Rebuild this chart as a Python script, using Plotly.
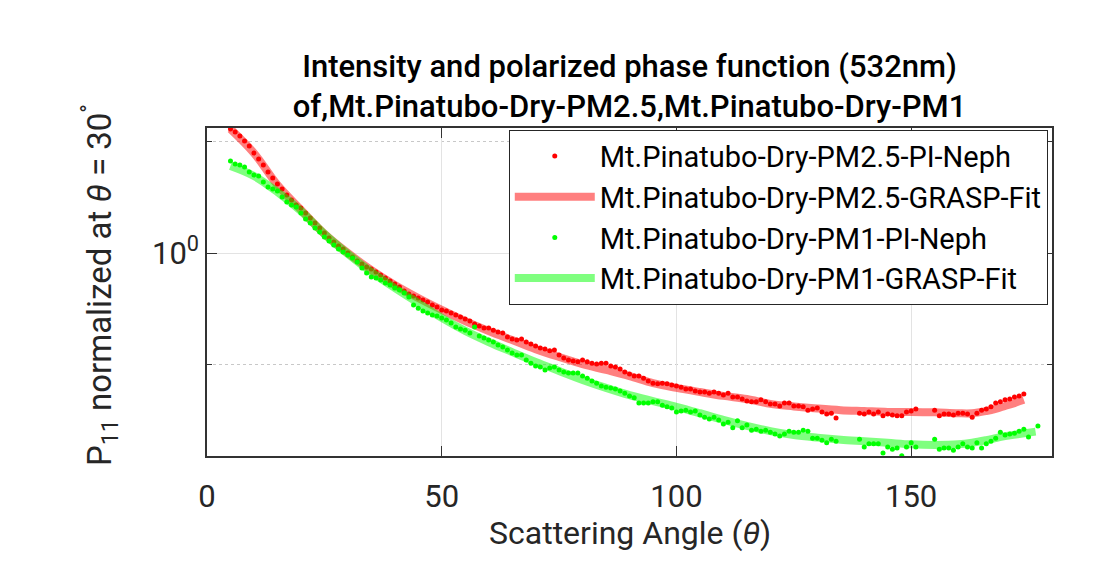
import plotly.graph_objects as go

# ---------------- data ----------------
neph_angles_pm25 = list(range(5, 135)) + list(range(139, 152)) + list(range(155, 175))
neph_pm25 = [
    2.168, 2.128, 2.075, 2.012, 1.950, 1.866, 1.798, 1.732, 1.658, 1.597,
    1.538, 1.491, 1.436, 1.392, 1.349, 1.324, 1.284, 1.244, 1.206, 1.169,
    1.133, 1.098, 1.071, 1.045, 1.025, 1.000, 0.975, 0.951, 0.934, 0.916,
    0.905, 0.888, 0.872, 0.856, 0.840, 0.824, 0.809, 0.789, 0.774, 0.765,
    0.755, 0.746, 0.737, 0.723, 0.714, 0.701, 0.696, 0.688, 0.679, 0.671,
    0.662, 0.654, 0.642, 0.634, 0.626, 0.626, 0.618, 0.611, 0.607, 0.592,
    0.585, 0.581, 0.585, 0.574, 0.567, 0.560, 0.553, 0.549, 0.543, 0.546,
    0.529, 0.519, 0.513, 0.510, 0.507, 0.513, 0.507, 0.503, 0.500, 0.503,
    0.503, 0.494, 0.491, 0.485, 0.476, 0.470, 0.464, 0.464, 0.458, 0.450,
    0.444, 0.442, 0.444, 0.442, 0.439, 0.436, 0.433, 0.428, 0.428, 0.423,
    0.420, 0.420, 0.417, 0.420, 0.417, 0.412, 0.417, 0.407, 0.407, 0.402,
    0.397, 0.395, 0.395, 0.400, 0.395, 0.390, 0.390, 0.385, 0.392, 0.392,
    0.385, 0.385, 0.383, 0.375, 0.378, 0.380, 0.371, 0.366, 0.368, 0.357,
    0.368, 0.366, 0.371, 0.366, 0.371, 0.362, 0.366, 0.364, 0.362, 0.362, 0.371, 0.373, 0.378,
    0.375, 0.362, 0.366, 0.366, 0.364, 0.368, 0.368, 0.366, 0.359, 0.368,
    0.375, 0.378, 0.383, 0.392, 0.395, 0.400, 0.402, 0.407, 0.410, 0.415,
]

neph_angles_pm1 = list(range(5, 135)) + list(range(139, 152)) + list(range(155, 176)) + [177]
neph_pm1 = [
    1.776, 1.743, 1.732, 1.710, 1.658, 1.627, 1.617, 1.557, 1.510, 1.491,
    1.472, 1.418, 1.375, 1.349, 1.332, 1.284, 1.236, 1.206, 1.169, 1.140,
    1.105, 1.078, 1.051, 1.025, 1.006, 0.988, 0.969, 0.945, 0.911, 0.883,
    0.861, 0.856, 0.845, 0.829, 0.819, 0.804, 0.794, 0.779, 0.760, 0.723,
    0.709, 0.696, 0.688, 0.679, 0.675, 0.667, 0.658, 0.646, 0.630, 0.622,
    0.618, 0.607, 0.630, 0.596, 0.588, 0.581, 0.574, 0.563, 0.556, 0.546,
    0.536, 0.529, 0.529, 0.513, 0.503, 0.494, 0.491, 0.482, 0.488, 0.491,
    0.482, 0.476, 0.473, 0.473, 0.473, 0.464, 0.458, 0.450, 0.444, 0.436,
    0.433, 0.431, 0.428, 0.423, 0.417, 0.410, 0.405, 0.392, 0.392, 0.392,
    0.395, 0.395, 0.387, 0.383, 0.380, 0.371, 0.373, 0.375, 0.371, 0.373,
    0.364, 0.359, 0.355, 0.359, 0.353, 0.344, 0.348, 0.336, 0.351, 0.336,
    0.342, 0.331, 0.333, 0.329, 0.331, 0.327, 0.323, 0.319, 0.323, 0.329,
    0.327, 0.327, 0.331, 0.329, 0.315, 0.315, 0.311, 0.306, 0.313, 0.309,
    0.313, 0.298, 0.304, 0.304, 0.304, 0.287, 0.298, 0.294, 0.296, 0.282, 0.298, 0.306, 0.298,
    0.313, 0.294, 0.296, 0.296, 0.292, 0.298, 0.304, 0.298, 0.296, 0.306,
    0.296, 0.304, 0.309, 0.315, 0.327, 0.321, 0.323, 0.325, 0.329, 0.333, 0.317,
    0.340,
]

fit_angles_pm25 = [5, 10, 15, 20, 25, 30, 35, 40, 45, 50, 55, 60, 65, 70, 75, 80, 85, 90, 95,
                   100, 105, 110, 115, 120, 125, 130, 135, 140, 145, 150, 155, 160, 163, 166,
                   168, 170, 172, 174]
fit_pm25 = [2.168, 1.866, 1.530, 1.310, 1.128, 1.000, 0.899, 0.819, 0.755, 0.701, 0.654,
            0.615, 0.581, 0.549, 0.523, 0.500, 0.482, 0.464, 0.444, 0.431, 0.420, 0.410,
            0.402, 0.390, 0.384, 0.379, 0.375, 0.373, 0.371, 0.371, 0.370, 0.368, 0.368,
            0.373, 0.378, 0.385, 0.392, 0.400]

fit_angles_pm1 = [5, 10, 15, 20, 25, 30, 35, 40, 45, 50, 55, 60, 65, 70, 75, 80, 85, 90, 95,
                  100, 105, 110, 115, 120, 125, 130, 135, 140, 145, 150, 155, 160, 163, 166,
                  168, 170, 173, 176.5]
fit_pm1 = [1.721, 1.617, 1.463, 1.300, 1.126, 0.994, 0.888, 0.804, 0.732, 0.667, 0.615,
           0.574, 0.539, 0.507, 0.479, 0.453, 0.431, 0.412, 0.397, 0.383, 0.368, 0.353,
           0.340, 0.329, 0.321, 0.316, 0.312, 0.309, 0.306, 0.303, 0.302, 0.303, 0.306,
           0.311, 0.315, 0.319, 0.323, 0.328]

names = ["Mt.Pinatubo-Dry-PM2.5-PI-Neph", "Mt.Pinatubo-Dry-PM2.5-GRASP-Fit",
         "Mt.Pinatubo-Dry-PM1-PI-Neph", "Mt.Pinatubo-Dry-PM1-GRASP-Fit"]
x_ticks = [0, 50, 100, 150]

# ---------------- figure ----------------
FONT = "Roboto"
TXT = "#262626"

fig = go.Figure()
fig.add_trace(go.Scatter(x=neph_angles_pm25, y=neph_pm25, mode="markers", name=names[0],
                         marker=dict(color="#ff0000", size=5)))
fig.add_trace(go.Scatter(x=fit_angles_pm25, y=fit_pm25, mode="lines", name=names[1],
                         line=dict(color="rgba(255,0,0,0.5)", width=8, shape="spline")))
fig.add_trace(go.Scatter(x=neph_angles_pm1, y=neph_pm1, mode="markers", name=names[2],
                         marker=dict(color="#00ff00", size=5)))
fig.add_trace(go.Scatter(x=fit_angles_pm1, y=fit_pm1, mode="lines", name=names[3],
                         line=dict(color="rgba(0,255,0,0.5)", width=8, shape="spline")))

L, R, T, B = 207, 67, 128, 120
W, H = 1119, 576

fig.update_layout(
    width=W, height=H,
    margin=dict(l=L, r=R, t=T, b=B, autoexpand=False),
    paper_bgcolor="white", plot_bgcolor="white",
    font=dict(family=FONT, color=TXT, size=31),
    title=dict(text="Intensity and polarized phase function (532nm)<br>of,Mt.Pinatubo-Dry-PM2.5,Mt.Pinatubo-Dry-PM1",
               x=0.5, xref="paper", xanchor="center",
               y=1 - 77 / H, yref="container", yanchor="middle",
               font=dict(family=FONT, size=31, color="#000000", weight=500)),
    showlegend=True,
    legend=dict(x=0.995, xanchor="right", y=0.995, yanchor="top",
                bgcolor="white", bordercolor="#262626", borderwidth=1,
                font=dict(family=FONT, size=29, color="#000000"),
                tracegroupgap=0, itemwidth=80),
    xaxis=dict(range=[0, 180], tickmode="array", tickvals=x_ticks,
               ticks="inside", ticklen=10, tickcolor="#333333", tickwidth=1,
               showline=True, linecolor="#333333", linewidth=1.5, mirror="ticks",
               showgrid=True, gridcolor="#e3e3e3", gridwidth=1, zeroline=False,
               ticklabelstandoff=12,
               tickfont=dict(size=31, color=TXT)),
    yaxis=dict(type="log", range=[-0.5501, 0.3388], tickmode="array", tickvals=[1],
               ticktext=["10<sup>0</sup>"],
               ticks="inside", ticklen=10, tickcolor="#333333", tickwidth=1,
               showline=True, linecolor="#333333", linewidth=1.5, mirror="ticks",
               showgrid=True, gridcolor="#e3e3e3", gridwidth=1, zeroline=False,
               tickfont=dict(size=31, color=TXT),
               minor=dict(tickmode="array", tickvals=[0.5, 2], ticks="inside", ticklen=5,
                          tickcolor="#333333", showgrid=True, gridcolor="#c8c8c8",
                          griddash="dot", gridwidth=1)),
)

fig.add_annotation(text="P<sub>11</sub> normalized at <i>θ</i> = 30<sup>°</sup>",
                   xref="paper", yref="paper", x=(100 - L) / (W - L - R), y=(H - B - 285) / (H - T - B),
                   textangle=-90, showarrow=False, xanchor="center", yanchor="middle",
                   font=dict(family=FONT, size=33, color=TXT))
fig.add_annotation(text="Scattering Angle (<i>θ</i>)",
                   xref="paper", yref="paper", x=0.5, y=(H - B - 533) / (H - T - B),
                   showarrow=False, xanchor="center", yanchor="middle",
                   font=dict(family=FONT, size=32, color=TXT))

fig.write_html("out.html")
